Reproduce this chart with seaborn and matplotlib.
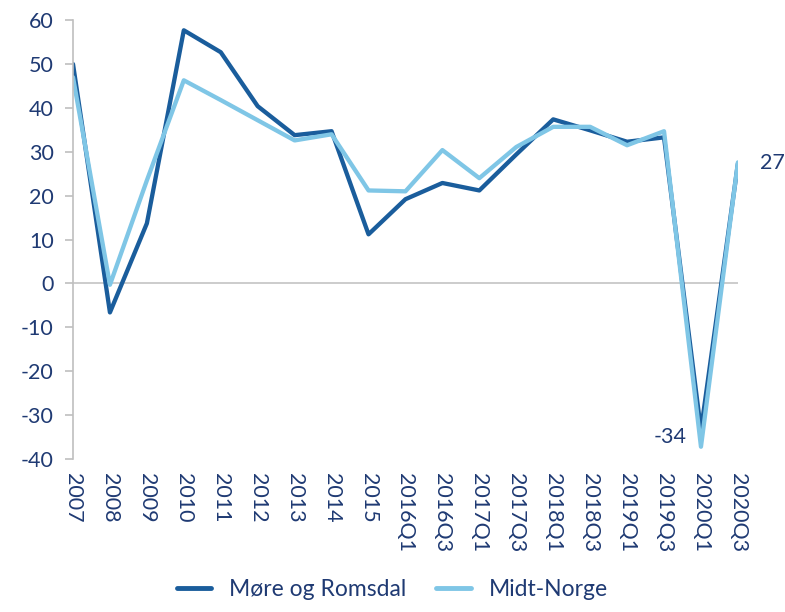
import numpy as np
import pandas as pd
import matplotlib
matplotlib.use("Agg")
import matplotlib.pyplot as plt
import seaborn as sns

# Data
periods = ["2007", "2008", "2009", "2010", "2011", "2012", "2013", "2014", "2015",
           "2016Q1", "2016Q3", "2017Q1", "2017Q3", "2018Q1", "2018Q3",
           "2019Q1", "2019Q3", "2020Q1", "2020Q3"]
more_romsdal = [50.0, -6.6, 13.7, 57.7, 52.7, 40.4, 33.8, 34.7, 11.2,
                19.2, 22.9, 21.2, 29.4, 37.4, 34.9, 32.3, 33.3, -33.5, 27.3]
midt_norge = [47.0, -0.3, 23.5, 46.3, 41.8, 37.2, 32.6, 34.0, 21.2,
              21.0, 30.4, 24.0, 31.1, 35.7, 35.7, 31.5, 34.7, -37.2, 27.6]

dark = "#1a5d9c"
light = "#7fc6e6"
text_col = "#1f3a73"

sns.set_theme(style="white")
plt.rcParams["font.family"] = ["Lato", "DejaVu Sans"]
plt.rcParams["axes.unicode_minus"] = False

df = pd.DataFrame({
    "pos": list(range(len(periods))) * 2,
    "value": more_romsdal + midt_norge,
    "serie": ["Møre og Romsdal"] * len(periods) + ["Midt-Norge"] * len(periods),
})

fig = plt.figure(figsize=(7.85, 6.12), dpi=100)
ax = fig.add_axes([0.093, 0.25, 0.847, 0.717])

sns.lineplot(data=df, x="pos", y="value", hue="serie",
             palette={"Møre og Romsdal": dark, "Midt-Norge": light},
             linewidth=3.1, sort=False, ax=ax)

ax.axhline(0, color="#c8c8c8", linewidth=1.3, zorder=0)

ax.set_xlim(0, len(periods) - 1)
ax.set_ylim(-40, 60)
ax.set_yticks(np.arange(-40, 61, 10))
ax.set_xticks(range(len(periods)))
ax.set_xticklabels(periods, rotation=270, fontsize=15.5, color=text_col)
ax.tick_params(axis="y", labelsize=15.5, labelcolor=text_col, left=True,
               length=6, width=1.2, color="#bfbfbf", direction="out", pad=8)
ax.tick_params(axis="x", bottom=False, pad=4)
ax.set_xlabel("")
ax.set_ylabel("")

for side in ["top", "right", "bottom"]:
    ax.spines[side].set_visible(False)
ax.spines["left"].set_color("#bfbfbf")
ax.spines["left"].set_linewidth(1.2)

# value labels at the end
ax.annotate("27", xy=(18, 27.5), xytext=(16, 0), textcoords="offset points",
            fontsize=15.5, color=text_col, va="center", ha="left")
ax.annotate("-34", xy=(17, -35), xytext=(-10, 0), textcoords="offset points",
            fontsize=15.5, color=text_col, va="center", ha="right")

handles, labels = ax.get_legend_handles_labels()
ax.get_legend().remove()
leg = fig.legend(handles, labels, loc="lower center", bbox_to_anchor=(0.5, -0.014),
                 ncol=2, frameon=False, fontsize=16.5, handlelength=1.5,
                 columnspacing=1.3)
for t in leg.get_texts():
    t.set_color(text_col)
for h in leg.get_lines():
    h.set_linewidth(3.5)

fig.savefig("out.png", dpi=100)
